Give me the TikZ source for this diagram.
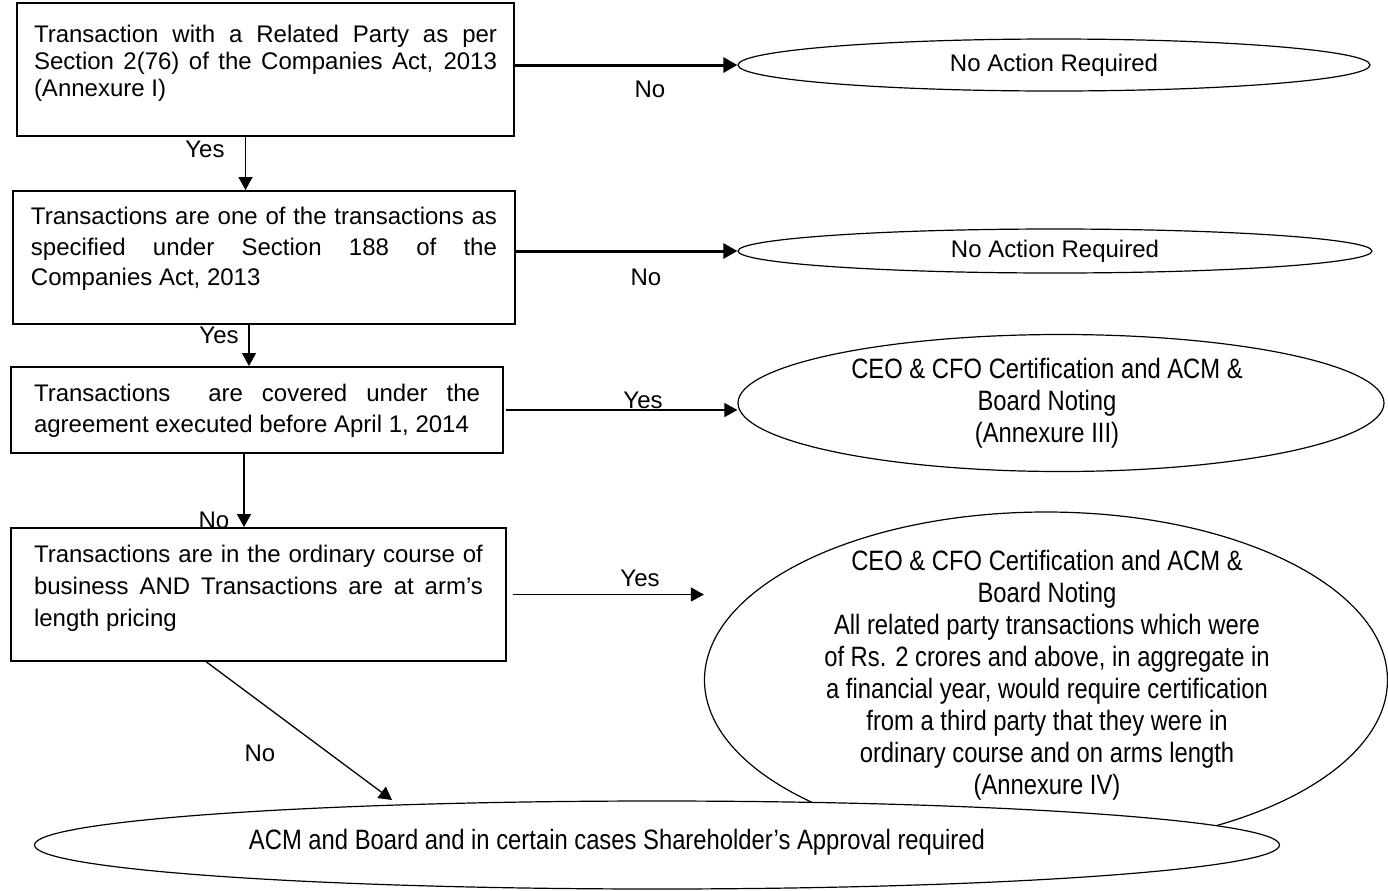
\documentclass[tikz,border=0pt]{standalone}
\usepackage{fontspec}
\setmainfont{Liberation Sans}
\newfontfamily\narrowfont[FakeStretch=0.85]{Liberation Sans}
\usetikzlibrary{shapes.geometric,arrows.meta}
\hyphenpenalty=10000
\exhyphenpenalty=10000
\tolerance=9999

\begin{document}
\begin{tikzpicture}[x=0.5pt, y=-0.5pt, font=\fontsize{12}{15}\selectfont,
    box/.style={draw, line width=1pt, anchor=north west, align=justify, inner ysep=0pt},
    oval/.style={draw, ellipse, line width=0.6pt, inner sep=0pt},
    ovaltext/.style={align=center, font=\narrowfont\fontsize{14}{16}\selectfont},
    arr/.style={line width=0.65pt, -{Triangle[length=6.5pt,width=7pt]}},
    bigarr/.style={line width=1.5pt, -{Triangle[length=7pt,width=7.5pt]}}]
        \useasboundingbox (0,0) rectangle (1388,890);
        \node[box, text width=231.5pt, inner xsep=8.5pt, text height=19.5pt, text depth=47pt, font=\fontsize{12}{13.5}\selectfont] (related) at (16,2) {Transaction with a Related Party as per Section 2(76) of the Companies Act, 2013 (Annexure I)};
        \node[box, text width=233pt, inner xsep=9pt, text height=16.8pt, text depth=49.7pt, font=\fontsize{12}{15.25}\selectfont] (sec188) at (12,190) {Transactions are one of the transactions as\linebreak specified under Section 188 of the\linebreak Companies Act, 2013};
        \node[box, text width=223pt, inner xsep=11.5pt, text height=17.3pt, text depth=25.7pt, font=\fontsize{12}{15.5}\selectfont] (agreement) at (10,366) {Transactions\ \ are covered under the agreement executed before April 1, 2014};
        \node[box, text width=224.5pt, inner xsep=11.5pt, text height=17.3pt, text depth=49.2pt, font=\fontsize{12}{16}\selectfont] (ordinary) at (10,527) {Transactions are in the ordinary course of business AND Transactions are at arm’s length pricing};

        \node[oval, minimum width=316pt, minimum height=26pt] (noaction1) at (1054,65) {No Action Required};
        \node[oval, minimum width=317pt, minimum height=22pt] (noaction2) at (1055,251) {No Action Required};
        \node[oval, minimum width=323pt, minimum height=68.5pt] (noting) at (1061,403) {};
        \node[ovaltext] (notingtext) at (1047,403) {CEO \& CFO Certification and ACM \&\\Board Noting\\(Annexure III)};
        \node[oval, minimum width=341.5pt, minimum height=168pt] (certify) at (1046,680) {};
        \node[ovaltext] (certifytext) at (1047,675) {CEO \& CFO Certification and ACM \&\\Board Noting\\All related party transactions which were\\of Rs. 2 crores and above, in aggregate in\\a financial year, would require certification\\from a third party that they were in\\ordinary course and on arms length\\(Annexure IV)};
        \node[oval, fill=white, minimum width=622.5pt, minimum height=44pt] (approval) at (657,845) {};
        \node[ovaltext] (approvaltext) at (617,842) {ACM and Board and in certain cases Shareholder’s Approval required};
        \coordinate (approvaltop) at (392,800);

        \draw[bigarr] (noaction1.west -| related.east) -- (noaction1.west);
        \draw[bigarr] (noaction2.west -| sec188.east) -- (noaction2.west);
        \draw[arr] ([xshift=1pt]agreement.east) -- (agreement.east -| noting.west);
        \draw[arr] ([xshift=3pt]ordinary.east) -- (ordinary.east -| certify.west);
        \draw[arr] ([xshift=-10pt]related.south) -- ([xshift=-10pt]related.south |- sec188.north);
        \draw[arr] ([xshift=-7.5pt]sec188.south) -- ([xshift=-7.5pt]sec188.south |- agreement.north);
        \draw[arr] ([xshift=-6.5pt]agreement.south) -- ([xshift=-6.5pt]agreement.south |- ordinary.north);
        \draw[arr] ([xshift=-26pt]ordinary.south) -- (approvaltop);

        \node (yes1) at (205,149) {Yes};
        \node (no1) at (650,89) {No};
        \node (no2) at (646,277) {No};
        \node (yes2) at (219,335) {Yes};
        \node (yes3) at (643,400) {Yes};
        \node (no3) at (214,520) {No};
        \node (yes4) at (640,578) {Yes};
        \node (no4) at (260,753) {No};
    \end{tikzpicture}
\end{document}
